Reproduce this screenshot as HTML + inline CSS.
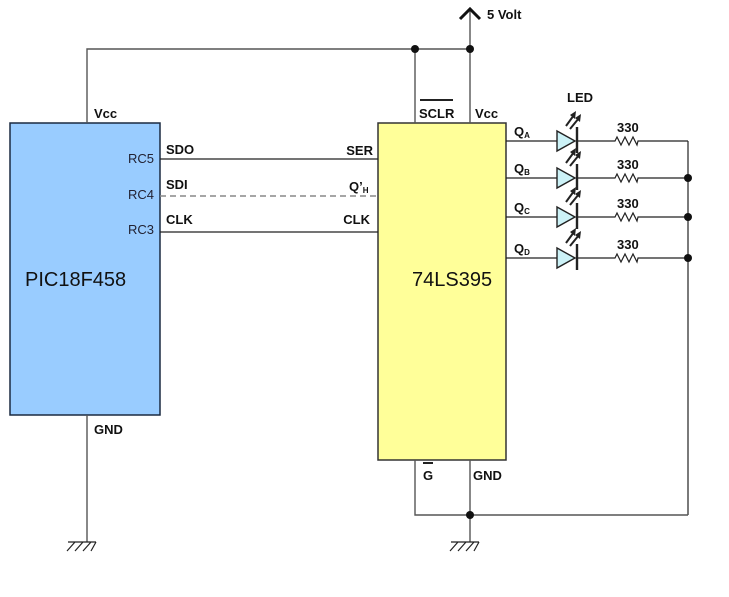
<!DOCTYPE html>
<html><head><meta charset="utf-8"><style>
html,body{margin:0;padding:0;background:#fff;}
svg{display:block;font-family:"Liberation Sans",Arial,sans-serif;}
.b{font-weight:bold;font-size:13px;fill:#111;}
.w{stroke:#555;stroke-width:1.4;fill:none;}
.k{stroke:#222;stroke-width:1.2;fill:none;}
</style></head><body>
<svg width="729" height="597" viewBox="0 0 729 597">
<defs>
<g id="row">
<path class="k" d="M506 141 H557 M577 141 H615 L617 137 L621 145 L625 137 L629 145 L633 137 L637 145 L638 141 H688"/>
<polygon points="557,131 575,141 557,151" fill="#ccf2f7" stroke="#222" stroke-width="1.4"/>
<line x1="577" y1="127" x2="577" y2="153" stroke="#222" stroke-width="2.4"/>
<path d="M570 129 L579 118 M566 126 L574 115" stroke="#222" stroke-width="2"/>
<polygon points="581,114 580,122 575,118" fill="#222"/><polygon points="576,111 575,119 570,115" fill="#222"/>
</g>
</defs>
<rect x="10" y="123" width="150" height="292" fill="#99ccff" stroke="#1a2a40" stroke-width="1.5"/>
<rect x="378" y="123" width="128" height="337" fill="#ffff99" stroke="#333" stroke-width="1.5"/>
<text x="25" y="286" font-size="20" fill="#111">PIC18F458</text>
<text x="412" y="286" font-size="20" fill="#111">74LS395</text>
<path class="w" d="M87 123 V49 H470"/>
<path class="w" d="M415 49 V123 M470 10 V123"/>
<path d="M460 19 L470 9 L480 19" stroke="#111" stroke-width="3" fill="none"/>
<text x="487" y="19" class="b">5 Volt</text>
<circle cx="415" cy="49" r="4" fill="#111"/>
<circle cx="470" cy="49" r="4" fill="#111"/>
<line x1="420" y1="100" x2="453" y2="100" stroke="#222" stroke-width="2"/>
<text x="419" y="118" class="b">SCLR</text>
<text x="475" y="118" class="b">Vcc</text>
<text x="94" y="118" class="b">Vcc</text>
<line x1="160" y1="159" x2="378" y2="159" stroke="#222" stroke-width="1.2"/>
<line x1="160" y1="196" x2="378" y2="196" stroke="#888" stroke-width="1.5" stroke-dasharray="6,4"/>
<line x1="160" y1="232" x2="378" y2="232" stroke="#222" stroke-width="1.2"/>
<text x="166" y="154" class="b">SDO</text>
<text x="166" y="189" class="b">SDI</text>
<text x="166" y="224" class="b">CLK</text>
<text x="373" y="155" class="b" text-anchor="end">SER</text>
<text x="349" y="191" class="b">Q’<tspan font-size="8" dy="2">H</tspan></text>
<text x="370" y="224" class="b" text-anchor="end">CLK</text>
<text x="154" y="163" font-size="13" fill="#223" text-anchor="end">RC5</text>
<text x="154" y="199" font-size="13" fill="#223" text-anchor="end">RC4</text>
<text x="154" y="234" font-size="13" fill="#223" text-anchor="end">RC3</text>
<text x="567" y="102" class="b">LED</text>
<use href="#row"/>
<use href="#row" transform="translate(0,37)"/>
<use href="#row" transform="translate(0,76)"/>
<use href="#row" transform="translate(0,117)"/>
<text x="617" y="132" class="b">330</text>
<text x="617" y="169" class="b">330</text>
<text x="617" y="208" class="b">330</text>
<text x="617" y="249" class="b">330</text>
<text x="514" y="136" class="b">Q<tspan font-size="8" dy="2">A</tspan></text>
<text x="514" y="173" class="b">Q<tspan font-size="8" dy="2">B</tspan></text>
<text x="514" y="212" class="b">Q<tspan font-size="8" dy="2">C</tspan></text>
<text x="514" y="253" class="b">Q<tspan font-size="8" dy="2">D</tspan></text>
<line class="k" x1="688" y1="141" x2="688" y2="515"/>
<circle cx="688" cy="178" r="4" fill="#111"/>
<circle cx="688" cy="217" r="4" fill="#111"/>
<circle cx="688" cy="258" r="4" fill="#111"/>
<path class="w" d="M415 460 V515 H688 M470 460 V542 M87 415 V542"/>
<circle cx="470" cy="515" r="4" fill="#111"/>
<line x1="423" y1="463" x2="433" y2="463" stroke="#222" stroke-width="2"/>
<text x="423" y="480" class="b">G</text>
<text x="473" y="480" class="b">GND</text>
<text x="94" y="434" class="b">GND</text>
<path class="k" d="M68 542 H96 M75 542 L67 551 M83 542 L75 551 M91 542 L83 551 M96 542 L91 551"/>
<path class="k" d="M451 542 H479 M458 542 L450 551 M466 542 L458 551 M474 542 L466 551 M479 542 L474 551"/>
</svg>
</body></html>
